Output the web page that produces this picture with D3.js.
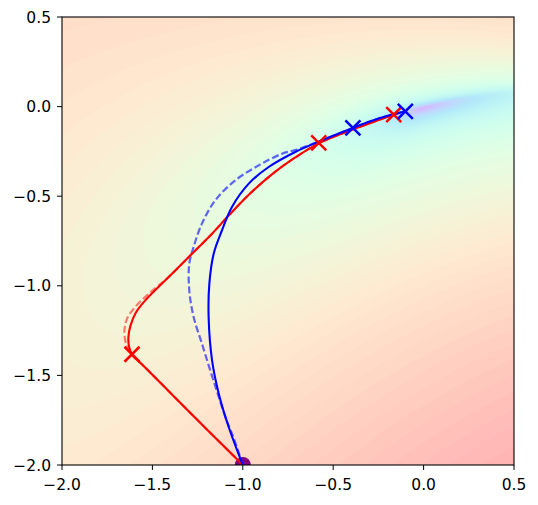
<!DOCTYPE html>
<html><head><meta charset="utf-8">
<script src="https://cdn.jsdelivr.net/npm/d3@7"></script>
<style>body{margin:0;background:#fff}svg{display:block}</style>
</head><body>
<svg id="c" width="538" height="505"></svg>
<script>
// ---------- data ----------
const xTicks = [-2.0, -1.5, -1.0, -0.5, 0.0, 0.5];
const yTicks = [-2.0, -1.5, -1.0, -0.5, 0.0, 0.5];
const startPoint = [-1.0, -2.0];
const redPath = [[-1.0,-2.0],[-1.2,-1.8],[-1.4,-1.598],[-1.55,-1.446],[-1.613,-1.382],[-1.628,-1.345],[-1.633,-1.29],[-1.622,-1.225],[-1.592,-1.15],[-1.539,-1.081],[-1.410,-0.951],[-1.281,-0.821],[-1.170,-0.709],[-1.078,-0.608],[-0.967,-0.492],[-0.839,-0.378],[-0.710,-0.284],[-0.580,-0.205],[-0.378,-0.123],[-0.165,-0.045],[-0.14,-0.037]];
const redDashPath = [[-1.0,-2.0],[-1.2,-1.8],[-1.4,-1.598],[-1.55,-1.446],[-1.604,-1.397],[-1.640,-1.341],[-1.655,-1.258],[-1.640,-1.183],[-1.595,-1.118],[-1.520,-1.044],[-1.410,-0.951],[-1.281,-0.821],[-1.170,-0.709],[-1.078,-0.608],[-0.967,-0.492],[-0.839,-0.378],[-0.710,-0.284],[-0.580,-0.205],[-0.378,-0.123],[-0.165,-0.045]];
const bluePath = [[-1.0,-2.0],[-1.078,-1.788],[-1.133,-1.602],[-1.170,-1.416],[-1.189,-1.174],[-1.185,-0.988],[-1.161,-0.821],[-1.115,-0.690],[-1.060,-0.560],[-0.967,-0.430],[-0.857,-0.337],[-0.710,-0.253],[-0.562,-0.188],[-0.391,-0.119],[-0.249,-0.067],[-0.101,-0.026]];
const blueDashPath = [[-1.0,-2.0],[-1.05,-1.85],[-1.09,-1.75],[-1.133,-1.620],[-1.180,-1.472],[-1.226,-1.323],[-1.272,-1.174],[-1.296,-1.025],[-1.296,-0.877],[-1.272,-0.783],[-1.226,-0.653],[-1.152,-0.523],[-1.041,-0.411],[-0.912,-0.328],[-0.783,-0.263],[-0.700,-0.240],[-0.562,-0.188],[-0.391,-0.119],[-0.249,-0.067],[-0.101,-0.026]];
const redMarks = [[-1.613,-1.382],[-0.580,-0.203],[-0.165,-0.045]];
const blueMarks = [[-0.391,-0.119],[-0.101,-0.026]];

// landscape parameters
const valleyC = -0.005, valleyA = 0.235, valleyB = -0.15, minX = -0.02;
function loss(px, py) {
  const n = py - (valleyC + valleyA*px + valleyB*px*px);
  let perp;
  if (n > 0) perp = 40*Math.exp(1.1*px)*n*n;
  else perp = 6.5*Math.exp(0.3*(px-0.5))*n*n + 6.3*Math.exp(1.0*(px-0.5))*n*n*n*n;
  const d = px - minX;
  const k2 = d < 0 ? 1.0 : 0.18;
  return perp + k2*d*d + 0.0011;
}
const level = f => 0.578 + 0.195*Math.log10(f);

// ---------- layout ----------
const svg = d3.select("#c");
const x = d3.scaleLinear().domain([-2, 0.5]).range([62, 514]);
const y = d3.scaleLinear().domain([-2, 0.5]).range([465, 17]);

svg.append("defs").append("clipPath").attr("id","clip")
  .append("rect").attr("x",62).attr("y",17).attr("width",452).attr("height",448);

const plot = svg.append("g").attr("clip-path","url(#clip)");

// rainbow colormap with alpha 0.3 on white
function rainbow(t){
  t = Math.max(0, Math.min(1, t));
  const r = Math.min(1, Math.abs(2*t-0.5)), g = Math.sin(Math.PI*t), b = Math.cos(Math.PI*t/2);
  const a = 0.3, mix = v => Math.round(255*(1-a) + a*255*Math.max(0,Math.min(1,v)));
  return `rgb(${mix(r)},${mix(g)},${mix(b)})`;
}

const nx = 226, ny = 224;
const vals = new Array(nx*ny);
for (let j=0;j<ny;j++) for (let i=0;i<nx;i++){
  const px = -2 + (i+0.5)*2.5/nx, py = 0.5 - (j+0.5)*2.5/ny;
  vals[i + j*nx] = level(loss(px,py));
}
const N = 60;
const thr = [-10].concat(d3.range(1, N+1).map(k => k/N));
const contours = d3.contours().size([nx, ny]).thresholds(thr)(vals);
const proj = d3.geoTransform({point: function(gx, gy){
  this.stream.point(x(-2 + gx*2.5/nx), y(0.5 - gy*2.5/ny));
}});
const gpath = d3.geoPath(proj);
plot.append("g").selectAll("path").data(contours).join("path")
  .attr("d", gpath)
  .attr("fill", (d,i) => rainbow(i < N ? (i===0 ? 0 : (thr[i] + 0.5/N)) : 1))
  .attr("stroke", "none");

// start point
plot.append("circle").attr("cx", x(startPoint[0])).attr("cy", y(startPoint[1])).attr("r", 8).attr("fill", "#800080");

const line = d3.line().x(d=>x(d[0])).y(d=>y(d[1])).curve(d3.curveCatmullRom.alpha(0.5));
plot.append("path").attr("d", line(redDashPath)).attr("fill","none").attr("stroke","red").attr("stroke-opacity",0.5).attr("stroke-width",2.2).attr("stroke-dasharray","7,3");
plot.append("path").attr("d", line(blueDashPath)).attr("fill","none").attr("stroke","blue").attr("stroke-opacity",0.6).attr("stroke-width",2.2).attr("stroke-dasharray","7,3");
plot.append("path").attr("d", line(redPath)).attr("fill","none").attr("stroke","red").attr("stroke-width",2.1);
plot.append("path").attr("d", line(bluePath)).attr("fill","none").attr("stroke","blue").attr("stroke-width",2.1);

function xMark(g, pts, color){
  const s = 7.5;
  g.selectAll(null).data(pts).join("path")
    .attr("d", d => { const cx=x(d[0]), cy=y(d[1]); return `M${cx-s},${cy-s}L${cx+s},${cy+s}M${cx-s},${cy+s}L${cx+s},${cy-s}`; })
    .attr("stroke", color).attr("stroke-width", 2.5).attr("fill","none");
}
xMark(plot.append("g"), redMarks, "red");
xMark(plot.append("g"), blueMarks, "blue");

// axes
const fmt = d3.format(".1f");
const font = "'DejaVu Sans', sans-serif";
const fs = 15.5;
const xa = svg.append("g");
xTicks.forEach(v => {
  xa.append("line").attr("x1",x(v)).attr("x2",x(v)).attr("y1",465).attr("y2",470).attr("stroke","#000").attr("stroke-width",1);
  xa.append("text").attr("x",x(v)).attr("y",490).attr("text-anchor","middle").attr("font-family",font).attr("font-size",fs).attr("fill","#000").text(fmt(v));
});
const ya = svg.append("g");
yTicks.forEach(v => {
  ya.append("line").attr("x1",57).attr("x2",62).attr("y1",y(v)).attr("y2",y(v)).attr("stroke","#000").attr("stroke-width",1);
  ya.append("text").attr("x",51).attr("y",y(v)+5.6).attr("text-anchor","end").attr("font-family",font).attr("font-size",fs).attr("fill","#000").text(fmt(v));
});
svg.append("rect").attr("x",62).attr("y",17).attr("width",452).attr("height",448).attr("fill","none").attr("stroke","#000").attr("stroke-width",1.1);
</script>
</body></html>
